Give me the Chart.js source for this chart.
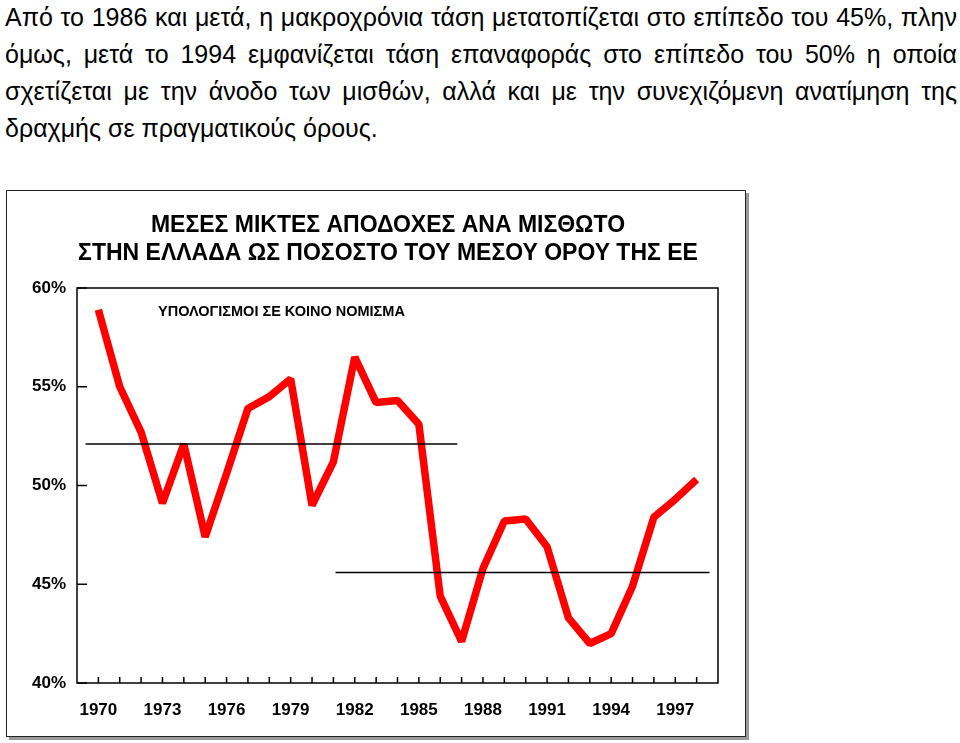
<!DOCTYPE html>
<html>
<head>
<meta charset="utf-8">
<script src="https://cdn.jsdelivr.net/npm/chart.js@4.4.1/dist/chart.umd.min.js"></script>
<style>
  html, body { margin: 0; padding: 0; background: #fff; }
  body { width: 960px; height: 743px; position: relative; overflow: hidden; font-family: "Liberation Sans", Arial, Helvetica, sans-serif; color: #000; }
  .para { position: absolute; left: 5px; top: -1px; width: 952px; font-size: 25px; }
  .para div { height: 37px; line-height: 37px; white-space: nowrap; }
  .para .j { text-align: justify; text-align-last: justify; }
  .box { position: absolute; left: 6px; top: 190px; width: 740px; height: 547px; box-sizing: border-box; border: 1px solid #222; box-shadow: 3px 3px 0 #9a9a9a; background: #fff; }
  .box canvas { position: absolute; left: 0; top: 0; }
</style>
</head>
<body>
<div class="para">
  <div class="j">Από το 1986 και μετά, η μακροχρόνια τάση μετατοπίζεται στο επίπεδο του 45%, πλην</div>
  <div class="j">όμως, μετά το 1994 εμφανίζεται τάση επαναφοράς στο επίπεδο του 50% η οποία</div>
  <div class="j">σχετίζεται με την άνοδο των μισθών, αλλά και με την συνεχιζόμενη ανατίμηση της</div>
  <div>δραχμής σε πραγματικούς όρους.</div>
</div>
<div class="box"><canvas id="wageChart" width="738" height="545"></canvas></div>
<script>
// data
const years = [1970, 1971, 1972, 1973, 1974, 1975, 1976, 1977, 1978, 1979,
               1980, 1981, 1982, 1983, 1984, 1985, 1986, 1987, 1988, 1989,
               1990, 1991, 1992, 1993, 1994, 1995, 1996, 1997, 1998];
const wageShare = [58.9, 55.0, 52.7, 49.1, 52.1, 47.4, 50.6, 53.9, 54.5, 55.4,
                   49.0, 51.2, 56.5, 54.2, 54.3, 53.1, 44.4, 42.1, 45.8, 48.2,
                   48.3, 46.9, 43.3, 42.0, 42.5, 44.9, 48.4, 49.3, 50.3];
// two average levels drawn as thin black lines
const levelOneYears = [1969.4, 1986.8];
const levelOneValues = [52.1, 52.1];
const levelTwoYears = [1981.1, 1998.6];
const levelTwoValues = [45.6, 45.6];

const yearLabels = [1970, 1973, 1976, 1979, 1982, 1985, 1988, 1991, 1994, 1997];
const yTicks = [40, 45, 50, 55, 60];
const titleLines = ['ΜΕΣΕΣ ΜΙΚΤΕΣ ΑΠΟΔΟΧΕΣ ΑΝΑ ΜΙΣΘΩΤΟ', 'ΣΤΗΝ ΕΛΛΑΔΑ ΩΣ ΠΟΣΟΣΤΟ ΤΟΥ ΜΕΣΟΥ ΟΡΟΥ ΤΗΣ ΕΕ'];
const noteText = 'ΥΠΟΛΟΓΙΣΜΟΙ ΣΕ ΚΟΙΝΟ ΝΟΜΙΣΜΑ';

const FONT = '"Liberation Sans", Arial, Helvetica, sans-serif';

function toPoints(xs, ys) {
    return xs.map((x, i) => ({ x: x, y: ys[i] }));
}

// titles, frame and inward tick marks
const boxText = {
    id: 'boxText',
    afterDraw(chart) {
        const ctx = chart.ctx;
        const area = chart.chartArea;
        const xs = chart.scales.x;
        const ys = chart.scales.y;
        ctx.save();
        ctx.strokeStyle = '#000';
        ctx.lineWidth = 1.5;
        ctx.strokeRect(area.left, area.top, area.right - area.left, area.bottom - area.top);

        ctx.beginPath();
        years.forEach(v => {
            const px = xs.getPixelForValue(v);
            ctx.moveTo(px, area.bottom);
            ctx.lineTo(px, area.bottom - 6);
        });
        yTicks.forEach(v => {
            const py = ys.getPixelForValue(v);
            ctx.moveTo(area.left, py);
            ctx.lineTo(area.left + 10, py);
        });
        ctx.stroke();

        ctx.fillStyle = '#000';
        ctx.textAlign = 'center';
        ctx.textBaseline = 'middle';
        ctx.font = 'bold 23px ' + FONT;
        ctx.fillText(titleLines[0], 381, 35);
        ctx.fillText(titleLines[1], 381, 63);

        ctx.textAlign = 'left';
        ctx.font = 'bold 14.5px ' + FONT;
        ctx.fillText(noteText, area.left + 81, area.top + 24);
        ctx.restore();
    }
};

const ctx = document.getElementById('wageChart').getContext('2d');
const wageChart = new Chart(ctx, {
    type: 'line',
    data: {
        datasets: [
            {
                data: toPoints(levelOneYears, levelOneValues),
                borderColor: '#000',
                borderWidth: 1.5,
                pointRadius: 0
            },
            {
                data: toPoints(levelTwoYears, levelTwoValues),
                borderColor: '#000',
                borderWidth: 1.5,
                pointRadius: 0
            },
            {
                data: toPoints(years, wageShare),
                borderColor: '#ff0000',
                borderWidth: 7.5,
                borderJoinStyle: 'bevel',
                borderCapStyle: 'butt',
                pointRadius: 0,
                tension: 0
            }
        ]
    },
    options: {
        responsive: false,
        animation: false,
        layout: { padding: { left: 0, right: 27, top: 97, bottom: 13 } },
        plugins: {
            legend: { display: false },
            tooltip: { enabled: false },
            title: { display: false }
        },
        scales: {
            x: {
                type: 'linear',
                min: 1969,
                max: 1999,
                afterBuildTicks: s => { s.ticks = years.map(v => ({ value: v })); },
                afterFit: s => { s.height = 40; },
                border: { display: false },
                grid: { display: false, drawTicks: false, tickLength: 0 },
                ticks: {
                    autoSkip: false,
                    maxRotation: 0,
                    padding: 17,
                    color: '#000',
                    font: { family: FONT, size: 17, weight: 'bold' },
                    callback: v => yearLabels.includes(v) ? String(v) : ''
                }
            },
            y: {
                min: 40,
                max: 60,
                afterBuildTicks: s => { s.ticks = yTicks.map(v => ({ value: v })); },
                afterFit: s => { s.width = 70; },
                border: { display: false },
                grid: { display: false, drawTicks: false, tickLength: 0 },
                ticks: {
                    padding: 11,
                    color: '#000',
                    font: { family: FONT, size: 17, weight: 'bold' },
                    callback: v => v + '%'
                }
            }
        }
    },
    plugins: [boxText]
});
</script>
</body>
</html>
